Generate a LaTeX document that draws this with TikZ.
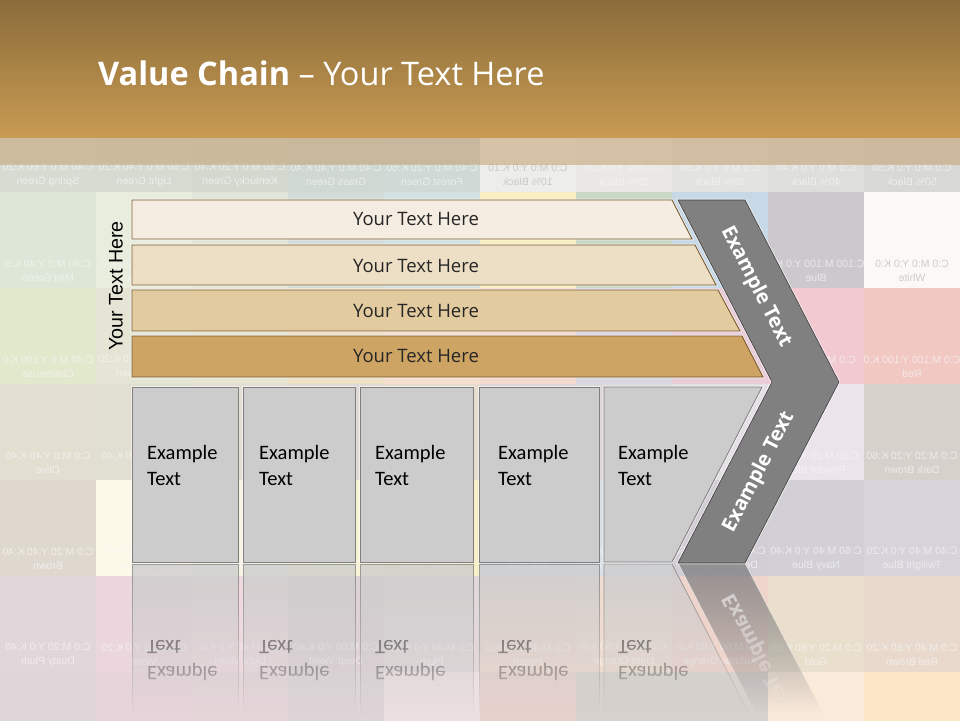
\documentclass[tikz,border=0pt]{standalone}
\usepackage{fontspec}
\setmainfont{Open Sans}
\newfontfamily\boxfont{Carlito}
\newfontfamily\chartfont{Liberation Sans}

\definecolor{headtop}{HTML}{8B6C3A}
\definecolor{headbot}{HTML}{C89B52}
\definecolor{bandtan}{HTML}{C4A070}
\definecolor{barline}{HTML}{7A5A2C}
\definecolor{barA}{HTML}{F5EDE2}
\definecolor{barB}{HTML}{EDDFC5}
\definecolor{barC}{HTML}{E3CBA0}
\definecolor{barD}{HTML}{CEA464}
\definecolor{boxgray}{HTML}{CCCCCC}
\definecolor{boxline}{HTML}{7F7F7F}
\definecolor{chevgray}{HTML}{808080}
\definecolor{chevline}{HTML}{404040}
\definecolor{inktext}{HTML}{262626}

\newcommand\swatch[3]{\definecolor{swcol}{HTML}{#3}\fill[swcol] (#1*96,#2*96) rectangle ++(96,96);}
\newcommand\swlabel[5][]{\node[swtext, #1] (lab-#2-#3) at (#2*96+48,#3*96+79) {#4\\#5};}
% boxes and lower arm, drawn again upside down as the reflection
\newcommand\reflparts{%
\draw[boxbase] (132,387) rectangle (238,562);
\draw[boxbase] (243,387) rectangle (355,562);
\draw[boxbase] (360,387) rectangle (473,562);
\draw[boxbase] (479,387) rectangle (599,562);
\draw[boxbase] (604,387) -- (762,387) -- (672,562) -- (604,562) -- cycle;
\node[boxtext, transform shape] (ract1) at (147,465) {Example\\Text};
\node[boxtext, transform shape] (ract2) at (259,465) {Example\\Text};
\node[boxtext, transform shape] (ract3) at (375,465) {Example\\Text};
\node[boxtext, transform shape] (ract4) at (498,465) {Example\\Text};
\node[boxtext, transform shape] (ract5) at (618,465) {Example\\Text};
\draw[chevbase, draw=white] (772,382) -- (839,382) -- (745,563) -- (678,563) -- cycle;
\node[chevtext, transform shape, rotate=62.6] (rarm2) at (759,472) {Example Text};
}

\tikzset{
  swtext/.style={xscale=-1, align=center, inner sep=0pt, text=white!96!black, opacity=.75,
    font=\chartfont\fontsize{10.5}{14}\selectfont},
  swdark/.style={text=black!22, opacity=.9},
  halo/.style={preaction={draw=white, fill=none, line width=2.6pt, draw opacity=.55}},
  bar/.style={draw=barline, line width=.9pt, halo},
  boxbase/.style={fill=boxgray, draw=boxline, line width=.8pt},
  boxshape/.style={boxbase, halo},
  chevbase/.style={fill=chevgray, draw=chevline, line width=.6pt},
  chevron/.style={chevbase, halo},
  bartext/.style={text=inktext, font=\fontsize{18.5}{22}\selectfont},
  boxtext/.style={anchor=west, align=left, inner sep=0pt, font=\boxfont\fontsize{20.5}{26}\selectfont},
  chevtext/.style={text=white, font=\bfseries\fontsize{20}{24}\selectfont},
}

\begin{document}
\begin{tikzpicture}[x=1pt,y=-1pt]
\useasboundingbox (0,0) rectangle (960,720);
% colour chart behind the slide
\swatch{0}{1}{D6DCD2}\swatch{1}{1}{D5DBD0}\swatch{2}{1}{D3D9CE}\swatch{3}{1}{CFD8D2}\swatch{4}{1}{CFD9D6}
\swatch{5}{1}{EDEDE9}\swatch{6}{1}{E9E8E4}\swatch{7}{1}{E3E3E0}\swatch{8}{1}{DEDEDB}\swatch{9}{1}{D8D8D5}
\swatch{0}{2}{DDE6D7}\swatch{1}{2}{E8EDDE}\swatch{2}{2}{E1E4D8}\swatch{3}{2}{D2DDDA}\swatch{4}{2}{D2E2E2}
\swatch{5}{2}{F9EFC2}\swatch{6}{2}{C9D8C5}\swatch{7}{2}{C7D8E6}\swatch{8}{2}{CCC8CE}\swatch{9}{2}{FAF9F5}
\swatch{0}{3}{E2E8CC}\swatch{1}{3}{E5E5D6}\swatch{2}{3}{E8E4D2}\swatch{3}{3}{EFE0C8}\swatch{4}{3}{F5DFCF}
\swatch{5}{3}{F4D9CE}\swatch{6}{3}{DAD6DF}\swatch{7}{3}{E8CDD9}\swatch{8}{3}{F2C9D1}\swatch{9}{3}{F2C8C3}
\swatch{0}{4}{E2DFD0}\swatch{1}{4}{E1DFD1}\swatch{2}{4}{E4DFD4}\swatch{3}{4}{DFDAD6}\swatch{4}{4}{E6DCD0}
\swatch{5}{4}{E0D6D8}\swatch{6}{4}{DDD8DC}\swatch{7}{4}{E5DFE6}\swatch{8}{4}{EBE5EB}\swatch{9}{4}{D6D1CB}
\swatch{0}{5}{DFD8CF}\swatch{1}{5}{FDF9E8}\swatch{2}{5}{F7F4E6}\swatch{3}{5}{FAF4D6}\swatch{4}{5}{F7EFC8}
\swatch{5}{5}{D5DFE8}\swatch{6}{5}{DAE0E8}\swatch{7}{5}{D3CED6}\swatch{8}{5}{D2CFD6}\swatch{9}{5}{D7D3DA}
\swatch{0}{6}{E1D7DB}\swatch{1}{6}{EAD6DC}\swatch{2}{6}{EDD9DE}\swatch{3}{6}{DED2D6}\swatch{4}{6}{E2D8DA}
\swatch{5}{6}{EED9D0}\swatch{6}{6}{EEDCD1}\swatch{7}{6}{EFD4CC}\swatch{8}{6}{EADFCC}\swatch{9}{6}{E9D9CC}
\swatch{0}{7}{DFD6DA}\swatch{1}{7}{E7D4DA}\swatch{2}{7}{E6D6DA}\swatch{3}{7}{DED5D8}\swatch{4}{7}{EDE0E0}
\swatch{5}{7}{E8D2CE}\swatch{6}{7}{D8D2CE}\swatch{7}{7}{D8D2CE}\swatch{8}{7}{FAEADA}\swatch{9}{7}{FCE6C6}
% mirrored chart labels
\swlabel{0}{1}{C:40 M:0 Y:60 K:20}{Spring Green}
\swlabel{1}{1}{C:60 M:0 Y:40 K:20}{Light Green}
\swlabel{2}{1}{C:60 M:0 Y:20 K:40}{Kentucky Green}
\swlabel{3}{1}{C:40 M:0 Y:40 K:40}{Grass Green}
\swlabel{4}{1}{C:40 M:0 Y:20 K:60}{Forest Green}
\swlabel[swdark]{5}{1}{C:0 M:0 Y:0 K:10}{10\% Black}
\swlabel{6}{1}{C:0 M:0 Y:0 K:20}{20\% Black}
\swlabel{7}{1}{C:0 M:0 Y:0 K:30}{30\% Black}
\swlabel{8}{1}{C:0 M:0 Y:0 K:40}{40\% Black}
\swlabel{9}{1}{C:0 M:0 Y:0 K:50}{50\% Black}
\swlabel{0}{2}{C:40 M:0 Y:40 K:0}{Mint Green}
\swlabel{1}{2}{C:20 M:0 Y:20 K:0}{Sea Green}
\swlabel{8}{2}{C:100 M:100 Y:0 K:0}{Blue}
\swlabel[swdark]{9}{2}{C:0 M:0 Y:0 K:0}{White}
\swlabel{0}{3}{C:40 M:0 Y:100 K:0}{Chartreuse}
\swlabel{1}{3}{C:20 M:0 Y:10 K:20}{Sage Green}
\swlabel{8}{3}{C:0 M:40 Y:0 K:0}{Pink}
\swlabel{9}{3}{C:0 M:100 Y:100 K:0}{Red}
\swlabel{0}{4}{C:0 M:0 Y:40 K:40}{Olive}
\swlabel{1}{4}{C:20 M:0 Y:0 K:40}{Slate}
\swlabel{8}{4}{C:20 M:20 Y:0 K:0}{Powder Blue}
\swlabel{9}{4}{C:0 M:20 Y:20 K:60}{Dark Brown}
\swlabel{0}{5}{C:0 M:20 Y:40 K:40}{Brown}
\swlabel{1}{5}{C:0 M:0 Y:20 K:0}{Pale Yellow}
\swlabel{2}{5}{C:0 M:0 Y:10 K:0}{Chalk}
\swlabel{3}{5}{C:0 M:0 Y:40 K:0}{Light Yellow}
\swlabel{4}{5}{C:0 M:0 Y:60 K:0}{Lemon Yellow}
\swlabel{5}{5}{C:20 M:0 Y:0 K:0}{Sky Blue}
\swlabel{6}{5}{C:20 M:0 Y:0 K:20}{Desert Blue}
\swlabel{7}{5}{C:40 M:40 Y:0 K:60}{Deep Navy Blue}
\swlabel{8}{5}{C:60 M:40 Y:0 K:40}{Navy Blue}
\swlabel{9}{5}{C:40 M:40 Y:0 K:20}{Twilight Blue}
\swlabel{0}{6}{C:0 M:20 Y:0 K:40}{Dusty Plum}
\swlabel{1}{6}{C:0 M:20 Y:0 K:20}{Violet}
\swlabel{2}{6}{C:0 M:40 Y:0 K:0}{Light Violet}
\swlabel{3}{6}{C:0 M:60 Y:0 K:40}{Deep Violet}
\swlabel{4}{6}{C:0 M:40 Y:0 K:20}{Plum}
\swlabel{5}{6}{C:0 M:40 Y:40 K:0}{Peach}
\swlabel{6}{6}{C:0 M:20 Y:60 K:0}{Light Orange}
\swlabel{7}{6}{C:0 M:60 Y:80 K:0}{Autumn Orange}
\swlabel{8}{6}{C:0 M:20 Y:60 K:20}{Gold}
\swlabel{9}{6}{C:0 M:40 Y:60 K:20}{Red Brown}
% shade under the title bar
\fill[bandtan, opacity=.55] (0,137) rectangle (960,165);
% title bar
\shade[top color=headtop, bottom color=headbot] (0,0) rectangle (960,137);
\node[anchor=west, inner sep=0pt, text=white, font=\fontsize{32.5}{38}\selectfont] (title) at (98,73) {\textbf{Value Chain} – Your Text Here};
% reflection, fading out one pixel row at a time
\foreach \k in {0,...,149} {
  \begin{scope}
    \clip (100,563+\k) rectangle (900,564+\k);
    \pgfmathsetmacro\op{0.55*(1-\k/150)}
    \begin{scope}[opacity=\op, shift={(0,1126)}, yscale=-1]
      \reflparts
    \end{scope}
  \end{scope}
}
% stacked bars
\draw[bar, fill=barA] (132,200) -- (672,200) -- (692,239) -- (132,239) -- cycle;
\draw[bar, fill=barB] (132,245) -- (695,245) -- (716,285) -- (132,285) -- cycle;
\draw[bar, fill=barC] (132,290) -- (718,290) -- (740,331) -- (132,331) -- cycle;
\draw[bar, fill=barD] (132,336) -- (742,336) -- (763,377) -- (132,377) -- cycle;
\node[bartext] (bar1) at (416,219) {Your Text Here};
\node[bartext] (bar2) at (416,266) {Your Text Here};
\node[bartext] (bar3) at (416,311) {Your Text Here};
\node[bartext] (bar4) at (416,356) {Your Text Here};
% activity boxes
\draw[boxshape] (132,387) rectangle (238,562);
\draw[boxshape] (243,387) rectangle (355,562);
\draw[boxshape] (360,387) rectangle (473,562);
\draw[boxshape] (479,387) rectangle (599,562);
\draw[boxshape] (604,387) -- (762,387) -- (672,562) -- (604,562) -- cycle;
\node[boxtext] (act1) at (147,465) {Example\\Text};
\node[boxtext] (act2) at (259,465) {Example\\Text};
\node[boxtext] (act3) at (375,465) {Example\\Text};
\node[boxtext] (act4) at (498,465) {Example\\Text};
\node[boxtext] (act5) at (618,465) {Example\\Text};
% chevron
\draw[chevron] (678,200) -- (745,200) -- (839,382) -- (745,563) -- (678,563) -- (772,382) -- cycle;
\node[chevtext, rotate=-62.7] (arm1) at (756,287) {Example Text};
\node[chevtext, rotate=62.6] (arm2) at (759,472) {Example Text};
% side label
\node[rotate=90, font=\chartfont\fontsize{19.7}{24}\selectfont] (side) at (116,286) {Your Text Here};
\end{tikzpicture}
\end{document}
